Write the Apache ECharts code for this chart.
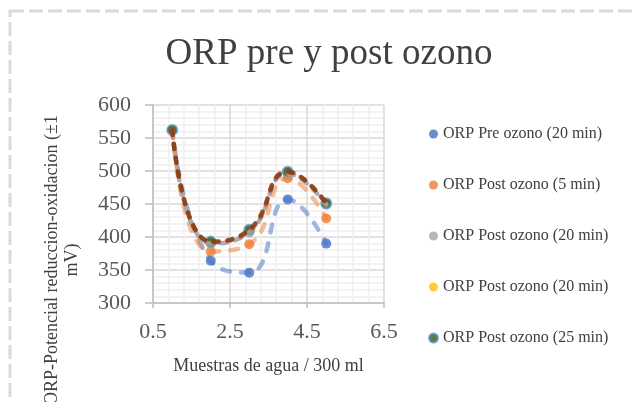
<!DOCTYPE html>
<html>
<head>
<meta charset="utf-8">
<title>ORP pre y post ozono</title>
<script src="https://cdn.jsdelivr.net/npm/echarts@6/dist/echarts.min.js"></script>
<style>
  html, body { margin: 0; padding: 0; background: #fff; }
  #main { width: 634px; height: 402px; }
</style>
</head>
<body>
<div id="main"></div>
<script>
  // muestras (eje x)
  var muestras = [1, 2, 3, 4, 5]
  // ORP en mV
  var preOzono20 = [562, 364, 346, 457, 390]
  var postOzono5 = [562, 378, 389, 489, 428]
  var postOzono20a = [562, 390, 407, 496, 449]
  var postOzono20b = [562, 392, 409, 498, 451]
  var postOzono25 = [562, 393, 411, 499, 451]

  var yTicks = [300, 350, 400, 450, 500, 550, 600]
  var xTicks = [0.5, 2.5, 4.5, 6.5]

  var serif = 'Liberation Serif'

  function pares (ys) {
    return muestras.map(function (x, i) { return [x, ys[i]] })
  }

  function puntos (name, ys, color, extra) {
    return {
      name: name,
      type: 'scatter',
      symbol: 'circle',
      symbolSize: 10,
      z: 2,
      itemStyle: Object.assign({ color: color }, extra || {}),
      data: pares(ys)
    }
  }

  // linea de tendencia punteada
  function tendencia (ys, color, opacity, dash) {
    return {
      name: 'tendencia',
      type: 'line',
      smooth: 0.5,
      showSymbol: false,
      silent: true,
      z: 3,
      lineStyle: { color: color, opacity: opacity, width: 4.5, type: dash, cap: 'round' },
      data: pares(ys)
    }
  }

  var myChart = echarts.init(document.getElementById('main'))
  var option = {
    animation: false,
    backgroundColor: '#fff',
    title: {
      text: 'ORP pre y post ozono',
      left: 324,
      top: 31,
      textAlign: 'center',
      textStyle: { fontFamily: serif, fontSize: 37, fontWeight: 'normal', color: '#404040' }
    },
    graphic: [
      {
        type: 'rect',
        shape: { x: 10, y: 11, width: 700, height: 500 },
        style: { fill: 'none', stroke: '#dadada', lineWidth: 3, lineDash: [14, 5] }
      },
      {
        type: 'text',
        x: 62,
        y: 260,
        rotation: Math.PI / 2,
        style: {
          text: 'ORP-Potencial reduccion-oxidacion (±1\nmV)',
          font: '18px "Liberation Serif"',
          fill: '#404040',
          align: 'center',
          verticalAlign: 'middle',
          lineHeight: 20
        }
      }
    ],
    legend: {
      orient: 'vertical',
      left: 423,
      top: 121,
      itemWidth: 9,
      itemHeight: 9,
      itemGap: 35,
      icon: 'circle',
      textStyle: { fontFamily: serif, fontSize: 16, color: '#404040', lineHeight: 16 },
      data: ['ORP Pre ozono (20 min)', 'ORP Post ozono (5 min)', 'ORP Post ozono (20 min)', 'ORP Post ozono (20 min) ', 'ORP Post ozono (25 min)']
    },
    grid: { left: 153, right: 250, top: 105, bottom: 99 },
    xAxis: {
      type: 'value',
      min: xTicks[0],
      max: xTicks[xTicks.length - 1],
      interval: 2,
      name: 'Muestras de agua / 300 ml',
      nameLocation: 'middle',
      nameGap: 54,
      nameTextStyle: { fontFamily: serif, fontSize: 18, color: '#404040' },
      axisLine: { show: true, lineStyle: { color: '#bfbfbf', width: 1.5 } },
      axisTick: { show: true, length: 5, lineStyle: { color: '#bfbfbf', width: 1.5 } },
      axisLabel: { margin: 18, fontFamily: serif, fontSize: 22, color: '#595959' },
      splitLine: { show: true, lineStyle: { color: '#d9d9d9', width: 1.5 } },
      minorTick: { show: false, splitNumber: 5 },
      minorSplitLine: { show: true, lineStyle: { color: '#efefef', width: 1.5 } }
    },
    yAxis: {
      type: 'value',
      min: yTicks[0],
      max: yTicks[yTicks.length - 1],
      interval: 50,
      axisLine: { show: true, lineStyle: { color: '#bfbfbf', width: 1.5 } },
      axisTick: { show: true, length: 8, lineStyle: { color: '#bfbfbf', width: 1.5 } },
      axisLabel: { margin: 22, fontFamily: serif, fontSize: 22, color: '#595959' },
      splitLine: { show: true, lineStyle: { color: '#d9d9d9', width: 1.5 } },
      minorTick: { show: false, splitNumber: 5 },
      minorSplitLine: { show: true, lineStyle: { color: '#efefef', width: 1.5 } }
    },
    series: [
      puntos('ORP Pre ozono (20 min)', preOzono20, '#4472C4'),
      puntos('ORP Post ozono (5 min)', postOzono5, '#ED7D31'),
      puntos('ORP Post ozono (20 min)', postOzono20a, '#A5A5A5'),
      puntos('ORP Post ozono (20 min) ', postOzono20b, '#FFC000'),
      puntos('ORP Post ozono (25 min)', postOzono25, '#375623', { borderColor: '#5B9BD5', borderWidth: 2 }),
      tendencia(preOzono20, '#4472C4', 0.5, [8, 11]),
      tendencia(postOzono5, '#ED7D31', 0.5, [8, 11]),
      tendencia(postOzono20a, '#A5A5A5', 0.9, [6, 9]),
      tendencia(postOzono20b, '#C0504D', 0.6, [5, 9]),
      tendencia(postOzono25, '#843C0C', 0.85, [5, 9])
    ]
  }
  myChart.setOption(option)
</script>
</body>
</html>
